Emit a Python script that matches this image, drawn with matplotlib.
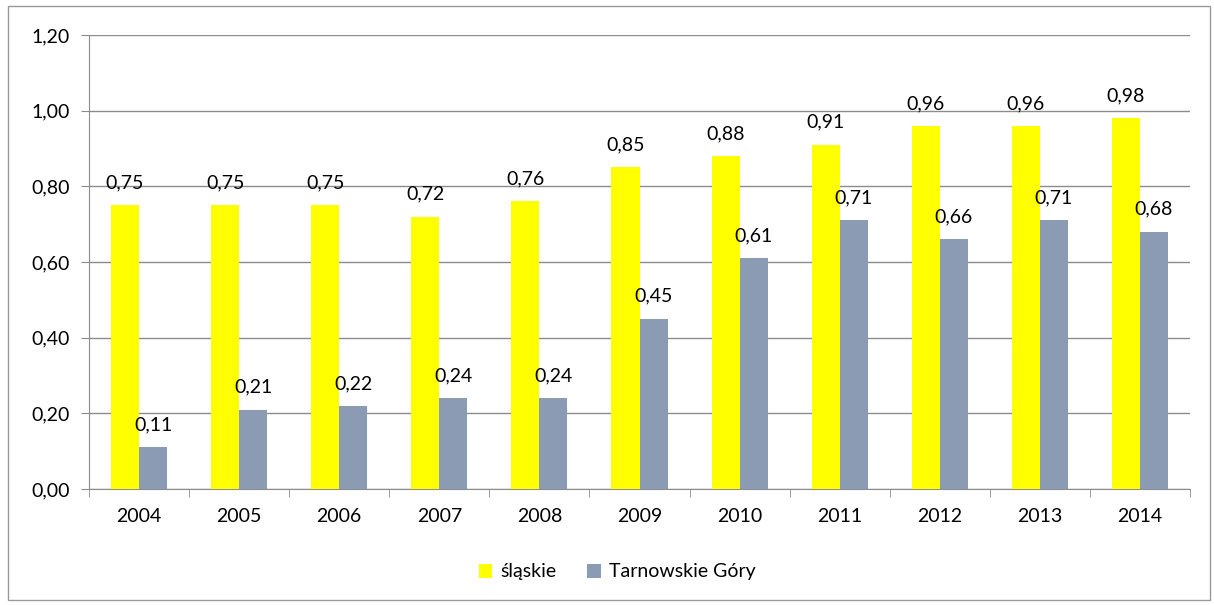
import matplotlib.pyplot as plt
from matplotlib.patches import Patch, Rectangle
import numpy as np

plt.rcParams['font.family'] = ['Lato', 'DejaVu Sans']

years = ['2004', '2005', '2006', '2007', '2008', '2009', '2010', '2011', '2012', '2013', '2014']
slaskie = [0.75, 0.75, 0.75, 0.72, 0.76, 0.85, 0.88, 0.91, 0.96, 0.96, 0.98]
tarnowskie = [0.11, 0.21, 0.22, 0.24, 0.24, 0.45, 0.61, 0.71, 0.66, 0.71, 0.68]
series_names = ['śląskie', 'Tarnowskie Góry']

yellow = '#FFFF00'
grey_blue = '#8A9BB3'
line_col = '#8C8C8C'
fs = 14

fig = plt.figure(figsize=(12.14, 6.05), dpi=100)
ax = fig.add_axes([89 / 1214, 1 - 489 / 605, 1101 / 1214, 454 / 605])

# outer chart border
fig.patches.append(Rectangle((8 / 1214, 5 / 605), 1202 / 1214, 594 / 605,
                             transform=fig.transFigure, fill=False,
                             edgecolor='#9A9A9A', linewidth=1))

x = np.arange(len(years))
w = 0.28
ax.bar(x - w / 2, slaskie, width=w, color=yellow, zorder=3)
ax.bar(x + w / 2, tarnowskie, width=w, color=grey_blue, zorder=3)

def fmt(v):
    return f"{v:.2f}".replace('.', ',')

for i in range(len(years)):
    ax.annotate(fmt(slaskie[i]), (x[i] - w / 2, slaskie[i]), xytext=(0, 10),
                textcoords='offset points', ha='center', va='bottom', fontsize=fs)
    ax.annotate(fmt(tarnowskie[i]), (x[i] + w / 2, tarnowskie[i]), xytext=(0, 10),
                textcoords='offset points', ha='center', va='bottom', fontsize=fs)

ax.set_xlim(-0.5, len(years) - 0.5)
ax.set_ylim(0, 1.2)
yt = np.arange(0, 1.21, 0.2)
ax.set_yticks(yt)
ax.set_yticklabels([fmt(v) for v in yt], fontsize=fs)
ax.set_xticks(x)
ax.set_xticklabels(years, fontsize=fs)
ax.set_xticks(np.arange(-0.5, len(years), 1), minor=True)
ax.tick_params(axis='x', which='major', length=0, pad=14)
ax.tick_params(axis='x', which='minor', length=6, color=line_col, direction='out')
ax.tick_params(axis='y', length=6, color=line_col, pad=8)

ax.grid(axis='y', color=line_col, linewidth=1, zorder=0)
for s in ['top', 'right']:
    ax.spines[s].set_visible(False)
for s in ['left', 'bottom']:
    ax.spines[s].set_color(line_col)

legend_elements = [Patch(facecolor=yellow, label=series_names[0]),
                   Patch(facecolor=grey_blue, label=series_names[1])]
fig.legend(handles=legend_elements, loc='center', bbox_to_anchor=(617 / 1214, 1 - 572 / 605),
           ncol=2, frameon=False, fontsize=fs, handlelength=0.7, handleheight=0.7,
           handletextpad=0.4, columnspacing=1.6)

fig.savefig('out.png', dpi=100)
